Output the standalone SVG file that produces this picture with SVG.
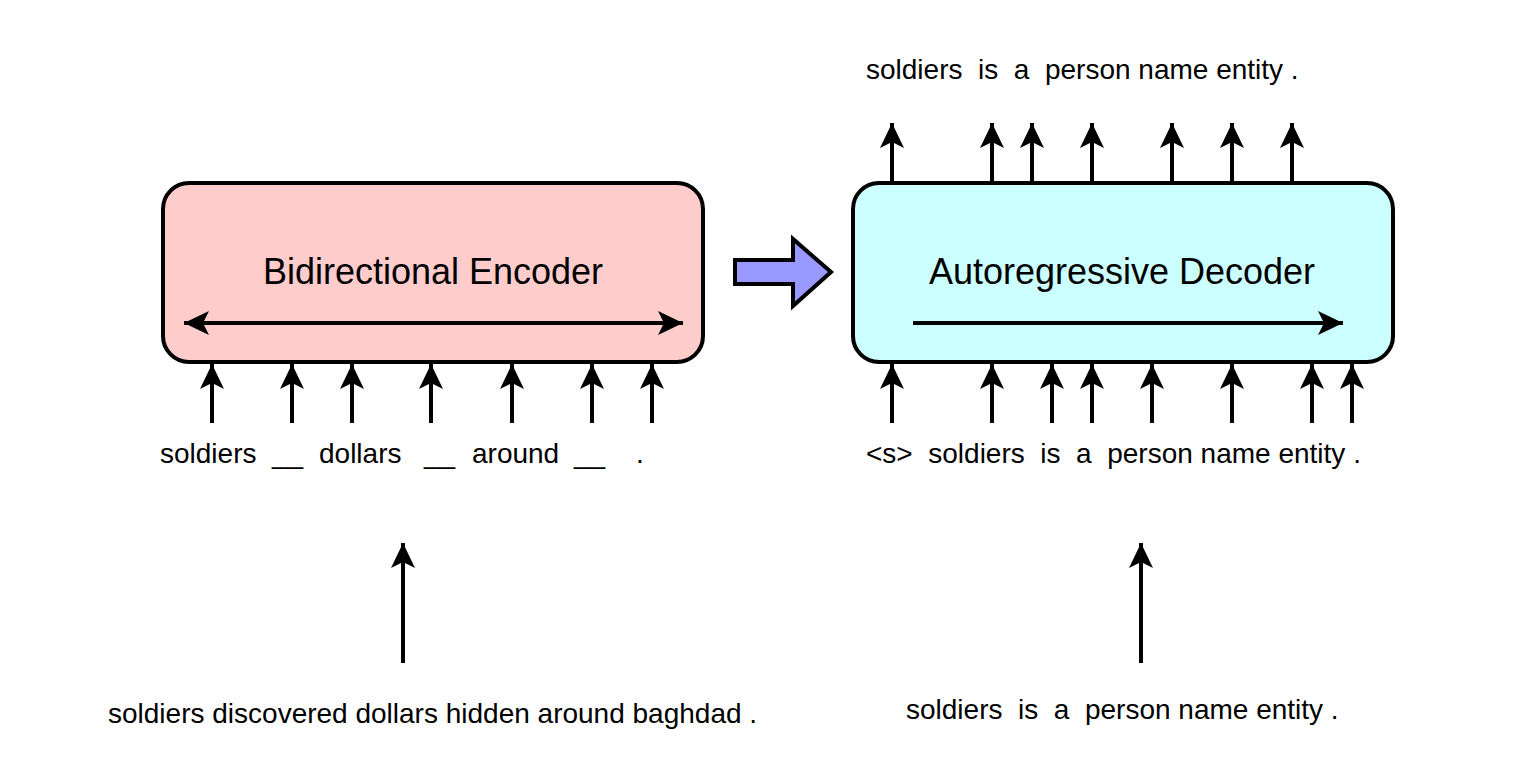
<svg xmlns="http://www.w3.org/2000/svg" width="1514" height="784" viewBox="0 0 1514 784">
<style>
text{font-family:"Liberation Sans",Arial,sans-serif;fill:#000;white-space:pre}
.lbl{font-size:28px}
.title{font-size:36px;text-anchor:middle}
.box{stroke:#000;stroke-width:4}
.ln{stroke:#000;stroke-width:4;fill:none}
</style>
<defs>
<marker id="ah" markerUnits="userSpaceOnUse" viewBox="0 -13 27 26" markerWidth="27" markerHeight="26" refX="25" refY="0" orient="auto-start-reverse">
<path d="M0,-12 L25,0 L0,12 L6,0 Z" fill="#000"/>
</marker>
</defs>
<rect width="1514" height="784" fill="#fff"/>
<g id="encoder">
<rect class="box" x="163" y="183" width="540" height="179" rx="26" fill="#FFCCCC"/>
<text class="title" x="433" y="284">Bidirectional Encoder</text>
<line class="ln" x1="184" y1="323" x2="683" y2="323" marker-start="url(#ah)" marker-end="url(#ah)"/>
</g>
<g id="decoder">
<rect class="box" x="853" y="183" width="540" height="179" rx="26" fill="#CCFFFF"/>
<text class="title" x="1122" y="284">Autoregressive Decoder</text>
<line class="ln" x1="913" y1="323" x2="1343" y2="323" marker-end="url(#ah)"/>
</g>
<g id="transfer-arrow">
<polygon points="735,260 793,260 793,239 831,272 793,306 793,284 735,284" fill="#9999FF" stroke="#000" stroke-width="4" stroke-linejoin="miter"/>
</g>
<g id="enc-input">
<text class="lbl" x="160" y="463">soldiers</text>
<text class="lbl" x="272" y="463">__</text>
<text class="lbl" x="319" y="463">dollars</text>
<text class="lbl" x="424" y="463">__</text>
<text class="lbl" x="472" y="463">around</text>
<text class="lbl" x="574" y="463">__</text>
<text class="lbl" x="636" y="463">.</text>
</g>
<g id="enc-source">
<text class="lbl" x="108" y="723">soldiers discovered dollars hidden around baghdad .</text>
</g>
<g id="dec-input">
<text class="lbl" x="866" y="463">&lt;s&gt;  soldiers  is  a  person name entity .</text>
</g>
<g id="dec-output">
<text class="lbl" x="866" y="79">soldiers  is  a  person name entity .</text>
</g>
<g id="dec-target">
<text class="lbl" x="906" y="719">soldiers  is  a  person name entity .</text>
</g>
<g id="connectors">
<line class="ln" x1="212" y1="423" x2="212" y2="364" marker-end="url(#ah)"/>
<line class="ln" x1="292" y1="423" x2="292" y2="364" marker-end="url(#ah)"/>
<line class="ln" x1="352" y1="423" x2="352" y2="364" marker-end="url(#ah)"/>
<line class="ln" x1="431" y1="423" x2="431" y2="364" marker-end="url(#ah)"/>
<line class="ln" x1="512" y1="423" x2="512" y2="364" marker-end="url(#ah)"/>
<line class="ln" x1="592" y1="423" x2="592" y2="364" marker-end="url(#ah)"/>
<line class="ln" x1="652" y1="423" x2="652" y2="364" marker-end="url(#ah)"/>
<line class="ln" x1="892" y1="423" x2="892" y2="364" marker-end="url(#ah)"/>
<line class="ln" x1="992" y1="423" x2="992" y2="364" marker-end="url(#ah)"/>
<line class="ln" x1="1052" y1="423" x2="1052" y2="364" marker-end="url(#ah)"/>
<line class="ln" x1="1092" y1="423" x2="1092" y2="364" marker-end="url(#ah)"/>
<line class="ln" x1="1152" y1="423" x2="1152" y2="364" marker-end="url(#ah)"/>
<line class="ln" x1="1232" y1="423" x2="1232" y2="364" marker-end="url(#ah)"/>
<line class="ln" x1="1312" y1="423" x2="1312" y2="364" marker-end="url(#ah)"/>
<line class="ln" x1="1352" y1="423" x2="1352" y2="364" marker-end="url(#ah)"/>
<line class="ln" x1="892" y1="183" x2="892" y2="123" marker-end="url(#ah)"/>
<line class="ln" x1="992" y1="183" x2="992" y2="123" marker-end="url(#ah)"/>
<line class="ln" x1="1032" y1="183" x2="1032" y2="123" marker-end="url(#ah)"/>
<line class="ln" x1="1092" y1="183" x2="1092" y2="123" marker-end="url(#ah)"/>
<line class="ln" x1="1172" y1="183" x2="1172" y2="123" marker-end="url(#ah)"/>
<line class="ln" x1="1232" y1="183" x2="1232" y2="123" marker-end="url(#ah)"/>
<line class="ln" x1="1292" y1="183" x2="1292" y2="123" marker-end="url(#ah)"/>
<line class="ln" x1="403" y1="663" x2="403" y2="543" marker-end="url(#ah)"/>
<line class="ln" x1="1141" y1="663" x2="1141" y2="543" marker-end="url(#ah)"/>
</g>
</svg>
